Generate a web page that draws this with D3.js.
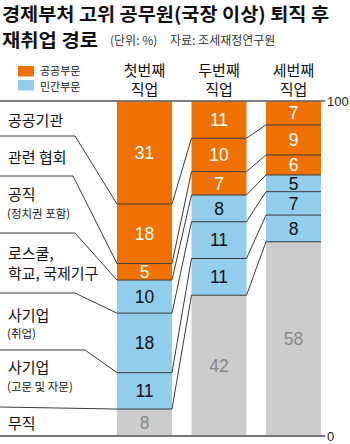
<!DOCTYPE html>
<html>
<head>
<meta charset="utf-8">
<script src="https://cdn.jsdelivr.net/npm/d3@7"></script>
<style>
  html, body { margin: 0; padding: 0; background: #fff; }
  svg { display: block; }
  .kr { font-family: "Noto Sans CJK KR", "Noto Sans", sans-serif; }
  .num { font-family: "Liberation Sans", Arial, sans-serif; }
</style>
</head>
<body>
<svg id="chart" width="350" height="444"></svg>
<script>
// ---- data ----
const categories = ["공공기관", "관련 협회", "공직", "로스쿨, 학교, 국제기구", "사기업(취업)", "사기업(고문 및 자문)", "무직"];
const sectors = ["공공", "공공", "공공", "민간", "민간", "민간", "무직"];
const jobs = ["첫번째 직업", "두번째 직업", "세번째 직업"];
const firstJob  = [31, 18, 5, 10, 18, 11, 8];
const secondJob = [11, 10, 7, 8, 11, 11, 42];
const thirdJob  = [7, 9, 6, 5, 7, 8, 58];
const legendLabels = ["공공부문", "민간부문"];
const axisTicks = [0, 100];

// ---- layout ----
const svg = d3.select("#chart");
const colors = { "공공": "#ef7100", "민간": "#92cdec", "무직": "#cccccc" };
const textColors = { "공공": "#ffffff", "민간": "#111111", "무직": "#8a8a8a" };

const series = [firstJob, secondJob, thirdJob];
const rows = jobs.map((j, i) => {
  const r = { job: j };
  categories.forEach((c, k) => r[c] = series[i][k]);
  return r;
});
// stack bottom-up (무직 at bottom), normalised per column
const keys = categories.slice().reverse();
const stacked = d3.stack().keys(keys).offset(d3.stackOffsetExpand)(rows);

const x = d3.scaleBand().domain(jobs).range([117, 321]).paddingInner(0.262).paddingOuter(0);
const y = d3.scaleLinear().domain([0, 1]).range([435.5, 101.5]);

// bars
const g = svg.append("g");
stacked.forEach(layer => {
  const cat = layer.key;
  const sec = sectors[categories.indexOf(cat)];
  g.selectAll(null).data(layer).enter().append("rect")
    .attr("x", d => x(d.data.job))
    .attr("y", d => y(d[1]))
    .attr("width", x.bandwidth())
    .attr("height", d => y(d[0]) - y(d[1]))
    .attr("fill", colors[sec]);
});

// baseline and top line
svg.append("line").attr("x1", 0).attr("x2", 325).attr("y1", y(1) - 0.5).attr("y2", y(1) - 0.5)
  .attr("stroke", "#555").attr("stroke-width", 1.3);
svg.append("line").attr("x1", 0).attr("x2", 325).attr("y1", y(0) + 0.5).attr("y2", y(0) + 0.5)
  .attr("stroke", "#777").attr("stroke-width", 2);

// left label separators (y positions of each category's lower boundary in the label column)
const labelSepY = [136, 176, 233, 293, 350, 407];
const labelSepX = [75, 73, 75, 75, 85, 0];

// connecting polylines: bottom boundary of each category (except last)
const line = d3.line();
categories.slice(0, categories.length - 1).forEach((cat, i) => {
  const layer = stacked.find(l => l.key === cat);
  const pts = [[0, labelSepY[i]], [labelSepX[i], labelSepY[i]]];
  layer.forEach(d => {
    const yy = y(d[0]);
    pts.push([x(d.data.job), yy]);
    pts.push([x(d.data.job) + x.bandwidth(), yy]);
  });
  svg.append("path").attr("d", line(pts)).attr("fill", "none")
    .attr("stroke", "#3a3a3a").attr("stroke-width", 1);
});

// value labels
stacked.forEach(layer => {
  const cat = layer.key;
  const sec = sectors[categories.indexOf(cat)];
  svg.selectAll(null).data(layer).enter().append("text")
    .attr("class", "num")
    .attr("x", d => x(d.data.job) + x.bandwidth() / 2)
    .attr("y", d => (y(d[0]) + y(d[1])) / 2)
    .attr("dy", "0.36em")
    .attr("text-anchor", "middle")
    .attr("font-size", 17.5)
    .attr("fill", textColors[sec])
    .text(d => d.data[cat]);
});

// right axis
const yAxisScale = d3.scaleLinear().domain([0, 100]).range([y(0) + 0.5, y(1) - 0.5]);
const ax = svg.append("g").attr("transform", "translate(326,0)")
  .call(d3.axisRight(yAxisScale).tickValues(axisTicks).tickSize(0).tickPadding(1));
ax.select(".domain").remove();
ax.selectAll("text").attr("font-size", 13).attr("fill", "#222")
  .style("font-family", "'Liberation Sans', Arial, sans-serif");

// title
svg.append("text").attr("class", "kr").attr("x", 2).attr("y", 21)
  .attr("font-size", 18.5).attr("font-weight", 700).attr("fill", "#111")
  .attr("textLength", 327).attr("lengthAdjust", "spacingAndGlyphs")
  .text("경제부처 고위 공무원(국장 이상) 퇴직 후");
svg.append("text").attr("class", "kr").attr("x", 2).attr("y", 47)
  .attr("font-size", 18.5).attr("font-weight", 700).attr("fill", "#111")
  .attr("textLength", 96).attr("lengthAdjust", "spacingAndGlyphs")
  .text("재취업 경로");
svg.append("text").attr("class", "kr").attr("x", 110).attr("y", 45)
  .attr("font-size", 12).attr("fill", "#333").text("(단위: %)");
svg.append("text").attr("class", "kr").attr("x", 170).attr("y", 45)
  .attr("font-size", 12).attr("fill", "#333").text("자료: 조세재정연구원");

// legend
const legend = svg.append("g");
legendLabels.forEach((lab, i) => {
  legend.append("rect").attr("x", 18).attr("y", 66 + i * 14).attr("width", 16).attr("height", 10.5)
    .attr("fill", colors[i === 0 ? "공공" : "민간"]);
  legend.append("text").attr("class", "kr").attr("x", 40).attr("y", 75 + i * 16)
    .attr("font-size", 11).attr("fill", "#222").text(lab);
});

// column headers
jobs.forEach(j => {
  const parts = j.split(" ");
  const cx = x(j) + x.bandwidth() / 2;
  svg.append("text").attr("class", "kr").attr("x", cx).attr("y", 76)
    .attr("text-anchor", "middle").attr("font-size", 15).attr("fill", "#111").text(parts[0]);
  svg.append("text").attr("class", "kr").attr("x", cx).attr("y", 95)
    .attr("text-anchor", "middle").attr("font-size", 15).attr("fill", "#111").text(parts[1]);
});

// left category labels
const leftLabels = [
  { main: ["공공기관"], sub: null, y: [126] },
  { main: ["관련 협회"], sub: null, y: [163] },
  { main: ["공직"], sub: "(정치권 포함)", y: [200, 218] },
  { main: ["로스쿨,", "학교, 국제기구"], sub: null, y: [259, 279] },
  { main: ["사기업"], sub: "(취업)", y: [321, 338] },
  { main: ["사기업"], sub: "(고문 및 자문)", y: [373, 391] },
  { main: ["무직"], sub: null, y: [429] }
];
leftLabels.forEach(l => {
  l.main.forEach((t, k) => {
    svg.append("text").attr("class", "kr").attr("x", 8).attr("y", l.y[k])
      .attr("font-size", 15).attr("fill", "#111").text(t);
  });
  if (l.sub) {
    svg.append("text").attr("class", "kr").attr("x", 7).attr("y", l.y[1])
      .attr("font-size", 11.5).attr("fill", "#222").text(l.sub);
  }
});
</script>
</body>
</html>
